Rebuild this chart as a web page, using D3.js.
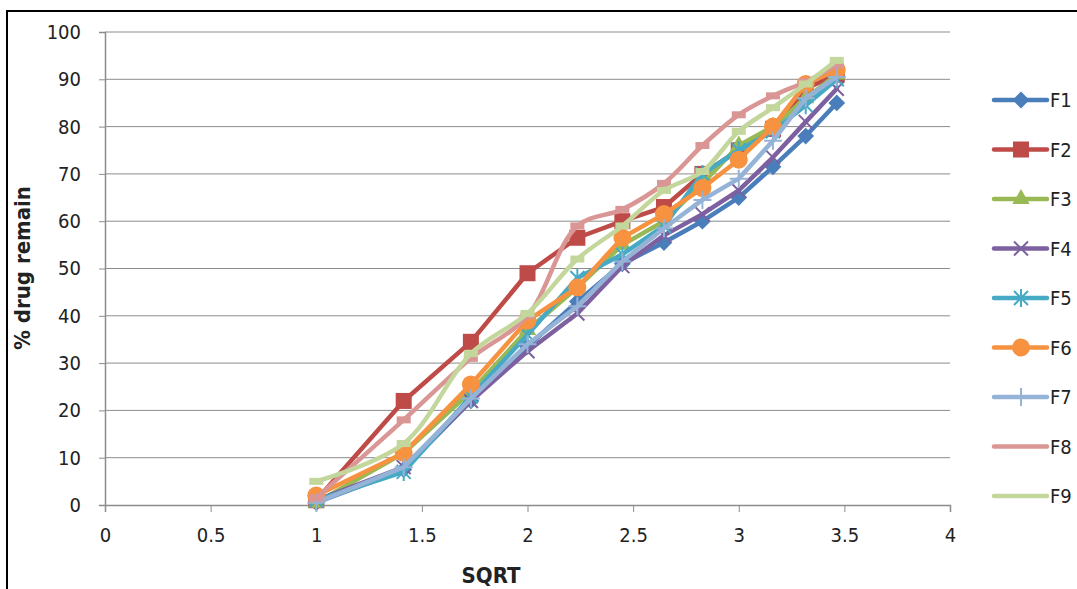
<!DOCTYPE html>
<html>
<head>
<meta charset="utf-8">
<script src="https://cdn.jsdelivr.net/npm/d3@7"></script>
<style>
  body { margin: 0; background: #fff; }
  svg { display: block; }
  text { font-family: "Liberation Sans Narrow", "DejaVu Sans Condensed", "Open Sans", sans-serif; fill: #222; }
</style>
</head>
<body>
<script>
const width = 1077
const height = 589

// sqrt(time) values on the x axis
const xValues = [1, 1.414, 1.732, 2, 2.236, 2.449, 2.646, 2.828, 3, 3.162, 3.317, 3.464]

const seriesNames = ['F1', 'F2', 'F3', 'F4', 'F5', 'F6', 'F7', 'F8', 'F9']
const F1 = [0.5, 7.5, 22, 33.5, 43, 51, 55.5, 60, 65, 71.5, 78, 85]
const F2 = [1, 22, 34.5, 49, 56.5, 60, 63, 70, 75, 79.5, 88, 91]
const F3 = [0.5, 11, 24, 37, 46, 55, 60, 68, 76, 80, 86, 91]
const F4 = [1, 8, 22, 32.5, 40.5, 50.5, 57, 61.5, 66.5, 73.5, 81, 88]
const F5 = [1, 7, 23, 36, 48, 53, 59, 70, 75, 79, 84.5, 90]
const F6 = [2, 11, 25.5, 39, 46, 56.5, 61.5, 67, 73, 80, 89, 92]
const F7 = [0.5, 8, 22.5, 34, 42, 51.5, 58.5, 64.5, 69, 77, 86, 90.5]
const F8 = [1.5, 18, 31, 40, 59, 62.5, 68, 76, 82.5, 86.5, 89.5, 93]
const F9 = [5, 13, 32, 40.5, 52, 59, 66.5, 70.5, 79, 84, 89, 94]
const seriesValues = [F1, F2, F3, F4, F5, F6, F7, F8, F9]

const xTicks = [0, 0.5, 1, 1.5, 2, 2.5, 3, 3.5, 4]
const yTicks = [0, 10, 20, 30, 40, 50, 60, 70, 80, 90, 100]

const colors = ['#4a7ebb', '#be4b48', '#98b954', '#7d60a0', '#46aac5', '#f69240', '#95b3d7', '#da9694', '#c3d69b']
const markers = ['diamond', 'square', 'triangle', 'cross', 'star', 'circle', 'plus', 'dash', 'dash']
const smooth = [false, false, false, false, false, false, false, true, true]

const plot = { left: 105, right: 950, top: 32, bottom: 505 }

const x = d3.scaleLinear().domain([0, 4]).range([plot.left, plot.right])
const y = d3.scaleLinear().domain([0, 100]).range([plot.bottom, plot.top])

const svg = d3.select('body').append('svg')
  .attr('width', width)
  .attr('height', height)

// outer frame (cut off by the right and bottom edges)
svg.append('rect')
  .attr('x', 7).attr('y', 11)
  .attr('width', width + 20).attr('height', height + 20)
  .attr('fill', 'none')
  .attr('stroke', '#000')
  .attr('stroke-width', 2)

// gridlines
svg.append('g')
  .selectAll('line')
  .data(yTicks.slice(1))
  .join('line')
  .attr('x1', plot.left).attr('x2', plot.right)
  .attr('y1', d => y(d)).attr('y2', d => y(d))
  .attr('stroke', '#8c8c8c')
  .attr('stroke-width', 1)

// axes
const yAxis = svg.append('g')
  .attr('transform', `translate(${plot.left},0)`)
  .call(d3.axisLeft(y).tickValues(yTicks).tickSize(6).tickPadding(18))
const xAxis = svg.append('g')
  .attr('transform', `translate(0,${plot.bottom})`)
  .call(d3.axisBottom(x).tickValues(xTicks).tickFormat(d3.format('')).tickSize(7).tickPadding(16))

for (const ax of [xAxis, yAxis]) {
  ax.select('.domain').attr('stroke', '#8c8c8c').attr('stroke-width', 1.5)
  ax.selectAll('.tick line').attr('stroke', '#8c8c8c')
  ax.selectAll('.tick text').style('font-size', '20px').attr('fill', '#222')
}

// axis titles
svg.append('text')
  .attr('x', 491).attr('y', 583)
  .attr('text-anchor', 'middle')
  .style('font-size', '22px').style('font-weight', 'bold')
  .text('SQRT')

svg.append('text')
  .attr('transform', 'translate(30,268) rotate(-90)')
  .attr('text-anchor', 'middle')
  .style('font-size', '22px').style('font-weight', 'bold')
  .text('% drug remain')

// marker drawing
function drawMarker (g, type, color) {
  switch (type) {
    case 'diamond':
      g.append('path').attr('d', d3.symbol(d3.symbolDiamond2, 180)()).attr('fill', color)
      break
    case 'square':
      g.append('rect').attr('x', -8).attr('y', -8).attr('width', 16).attr('height', 16).attr('fill', color)
      break
    case 'triangle':
      g.append('path').attr('d', d3.symbol(d3.symbolTriangle, 130)()).attr('fill', color)
      break
    case 'cross':
      g.append('path').attr('d', 'M-7,-7L7,7M-7,7L7,-7').attr('stroke', color).attr('stroke-width', 2)
      break
    case 'star':
      g.append('path').attr('d', 'M-7,-7L7,7M-7,7L7,-7M0,-9L0,9').attr('stroke', color).attr('stroke-width', 2)
      break
    case 'circle':
      g.append('circle').attr('r', 9).attr('fill', color)
      break
    case 'plus':
      g.append('path').attr('d', 'M-9,0L9,0M0,-9L0,9').attr('stroke', color).attr('stroke-width', 2)
      break
    case 'dash':
      g.append('rect').attr('x', -7).attr('y', -3.5).attr('width', 14).attr('height', 7).attr('fill', color)
      break
  }
}

// series lines and markers
seriesNames.forEach((name, i) => {
  const pts = xValues.map((xv, j) => [xv, seriesValues[i][j]])
  const line = d3.line()
    .x(d => x(d[0]))
    .y(d => y(d[1]))
    .curve(smooth[i] ? d3.curveCatmullRom.alpha(0.5) : d3.curveLinear)

  const g = svg.append('g')
  g.append('path')
    .datum(pts)
    .attr('d', line)
    .attr('fill', 'none')
    .attr('stroke', colors[i])
    .attr('stroke-width', 4.5)
    .attr('stroke-linejoin', 'round')
    .attr('stroke-linecap', 'round')

  g.selectAll('g.mark')
    .data(pts)
    .join('g')
    .attr('class', 'mark')
    .attr('transform', d => `translate(${x(d[0])},${y(d[1])})`)
    .each(function () { drawMarker(d3.select(this), markers[i], colors[i]) })
})

// legend
const legend = svg.append('g')
  .selectAll('g')
  .data(seriesNames)
  .join('g')
  .attr('transform', (d, i) => `translate(994,${100 + i * 49.5})`)

legend.append('line')
  .attr('x1', 0).attr('x2', 53)
  .attr('stroke', (d, i) => colors[i])
  .attr('stroke-width', 4.5)
  .attr('stroke-linecap', 'round')

legend.each(function (d, i) {
  if (markers[i] !== 'dash') {
    const m = d3.select(this).append('g').attr('transform', 'translate(27,0)')
    drawMarker(m, markers[i], colors[i])
  }
})

legend.append('text')
  .attr('x', 56).attr('y', 0)
  .attr('dy', '0.35em')
  .style('font-size', '20px')
  .text(d => d)
</script>
</body>
</html>
